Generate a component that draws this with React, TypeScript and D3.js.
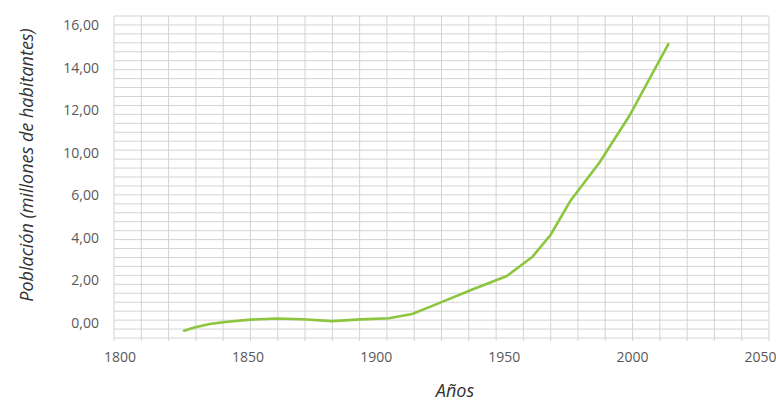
import React from "react";
import * as d3 from "d3";

const years = [1825, 1829, 1835, 1841, 1851, 1861, 1871, 1883, 1894, 1905, 1914, 1925, 1937, 1951, 1961, 1968, 1976, 1987, 1999, 2014];
const population = [-0.36, -0.21, -0.05, 0.05, 0.16, 0.21, 0.18, 0.09, 0.17, 0.22, 0.42, 0.96, 1.55, 2.21, 3.12, 4.14, 5.79, 9.06, 11.79, 15.12];
const yTicks = [0, 2, 4, 6, 10, 12, 14, 16];
const xTicks = [1800, 1850, 1900, 1950, 2000, 2050];
const formatTick = (v: number) => v.toFixed(2).replace(".", ",");

const W = 776;
const H = 404;
const plot = { left: 114, right: 769, top: 16, bottom: 338 };
const vCount = 24;
const hCount = 36;
const textColor = "#595959";
const gridColor = "#d3d3d3";
const lineColor = "#8cc63f";
const font = "'Open Sans', sans-serif";

export default function App() {
  const x = d3.scaleLinear().domain([1800, 2050]).range([120, 760.6]);
  const yBottom = 323;
  const yStep = 42.5;
  const y = d3
    .scaleLinear()
    .domain(yTicks)
    .range(yTicks.map((_, i) => yBottom - i * yStep));

  const gx = d3.scaleLinear().domain([0, vCount]).range([plot.left, plot.right]);
  const gy = d3.scaleLinear().domain([0, hCount]).range([plot.top, plot.bottom]);

  const data = years.map((yr, i) => ({ yr, v: population[i] }));
  const line = d3
    .line<{ yr: number; v: number }>()
    .x((d) => x(d.yr))
    .y((d) => y(d.v))
    .curve(d3.curveLinear);

  return (
    <svg
      width={W}
      height={H}
      style={{ position: "absolute", left: 0, top: 0, background: "#fff" }}
      fontFamily={font}
    >
      <g>
        {d3.range(hCount + 1).map((i) => (
          <line key={"h" + i} x1={plot.left} x2={plot.right} y1={gy(i)} y2={gy(i)} stroke={gridColor} strokeWidth={1} />
        ))}
        {d3.range(vCount + 1).map((i) => (
          <line key={"v" + i} x1={gx(i)} x2={gx(i)} y1={plot.top} y2={plot.bottom + 3} stroke={gridColor} strokeWidth={1} />
        ))}
      </g>
      <path d={line(data) || ""} fill="none" stroke={lineColor} strokeWidth={2.6} strokeLinecap="round" strokeLinejoin="round" />
      <g fill={textColor} fontSize={14}>
        {yTicks.map((t) => (
          <text key={"yt" + t} x={99} y={y(t)} dy="0.35em" textAnchor="end">
            {formatTick(t)}
          </text>
        ))}
        {xTicks.map((t) => (
          <text key={"xt" + t} x={x(t)} y={357} dy="0.35em" textAnchor="middle">
            {t}
          </text>
        ))}
      </g>
      <text x={455} y={397} textAnchor="middle" fontSize={18} fontStyle="italic" fill="#333">
        Años
      </text>
      <text
        transform={`translate(33,165) rotate(-90)`}
        textAnchor="middle"
        fontSize={18}
        fontStyle="italic"
        fill="#333"
      >
        Población (millones de habitantes)
      </text>
    </svg>
  );
}
